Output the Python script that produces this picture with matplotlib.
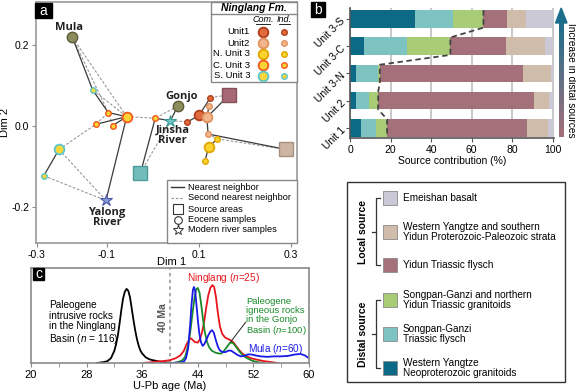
import numpy as np
import matplotlib.pyplot as plt
from matplotlib.patches import Rectangle, Polygon
from matplotlib.colors import LinearSegmentedColormap

plt.rcParams['font.family'] = ['Liberation Sans', 'DejaVu Sans']
plt.rcParams['mathtext.fontset'] = 'custom'
plt.rcParams['mathtext.it'] = 'Liberation Sans:italic'
plt.rcParams['mathtext.rm'] = 'Liberation Sans'

W, H = 576, 391

# ---------------- panel a : MDS map ----------------
pt_x = [-0.175, 0.054, -0.102, 0.038, -0.027, 0.166, 0.289,
        0.100, 0.075, 0.125, 0.117, 0.122, 0.120, 0.121, 0.140, 0.113,
        -0.057, -0.097, -0.124, -0.087, 0.005, -0.204, -0.131, -0.237]
pt_y = [0.219, 0.049, -0.184, 0.013, -0.116, 0.077, -0.058,
        0.026, 0.010, 0.070, 0.021, 0.049, -0.020, -0.052, -0.032, -0.087,
        0.023, 0.033, 0.004, 0.001, 0.019, -0.058, 0.089, -0.123]
pt_kind = ['river_dot', 'river_dot', 'yalong', 'jinsha', 'sq_sg', 'sq_yidun', 'sq_wy',
           'u1c', 'u1i', 'u1i', 'u2c', 'u2i', 'u2i', 'n3c', 'n3i', 'n3i',
           'c3c', 'c3i', 'c3i', 'c3i', 'c3i', 's3c', 's3i', 's3i']
nearest_pairs = [(0, 22), (22, 17), (17, 16), (18, 16), (19, 16), (2, 16), (21, 23),
                 (4, 20), (20, 3), (3, 1), (8, 7), (7, 10), (9, 7), (11, 10), (10, 5),
                 (10, 12), (12, 6), (14, 13), (13, 15)]
second_pairs = [(0, 16), (0, 17), (22, 16), (21, 18), (18, 17), (21, 2), (23, 2), (16, 20),
                (4, 3), (1, 20), (3, 8), (9, 5), (12, 14), (14, 6), (11, 9), (19, 17)]
place_names = ['Mula', 'Gonjo', 'Jinsha\nRiver', 'Yalong\nRiver']
place_x = [-0.183, 0.063, 0.043, -0.100]
place_y = [0.244, 0.072, -0.024, -0.227]

unit_names = ['Unit1', 'Unit2', 'N. Unit 3', 'C. Unit 3', 'S. Unit 3']
unit_keys = ['u1', 'u2', 'n3', 'c3', 's3']
unit_face = ['#e26b3e', '#f3b68c', '#fbd52e', '#fcd236', '#fbd63a']
unit_edge = ['#b03e1a', '#e0925e', '#e2a400', '#f05a1e', '#5ac6cc']

# ---------------- panel b : source contributions ----------------
units = ['Unit 1', 'Unit 2', 'Unit 3-N', 'Unit 3-C', 'Unit 3-S']
wy_granitoids = [5.2, 2.8, 2.9, 7.0, 31.9]
sg_flysch = [7.4, 6.5, 10.7, 21.1, 18.8]
sg_granitoids = [5.7, 4.6, 1.1, 21.4, 15.1]
yidun_flysch = [69.1, 76.8, 70.6, 27.3, 11.5]
wy_strata = [10.3, 7.3, 13.6, 19.6, 9.3]
emeishan = [2.3, 2.0, 1.1, 3.6, 13.4]
src_names = ['Western Yangtze\nNeoproterozoic granitoids', 'Songpan-Ganzi\nTriassic flysch',
             'Songpan-Ganzi and northern\nYidun Triassic granitoids', 'Yidun Triassic flysch',
             'Western Yangtze and southern\nYidun Proterozoic-Paleozoic strata', 'Emeishan basalt']
src_colors = ['#0c6a86', '#7cc3c2', '#a8cc76', '#a4707a', '#d0bcaa', '#cac9d5']

# ---------------- panel c : KDE curves ----------------
intrusive_age = [29.5, 30.5, 31.0, 31.5, 32.0, 32.25, 32.5, 32.75, 33.0, 33.25, 33.5, 33.75,
                 34.0, 34.25, 34.5, 34.75, 35.0, 35.25, 35.5, 35.75, 36.0, 36.5, 37.0, 37.5,
                 38.5, 39.5, 40.5]
intrusive_den = [0.0, 0.01, 0.02, 0.05, 0.13, 0.2, 0.29, 0.42, 0.56, 0.68, 0.75, 0.78,
                 0.76, 0.69, 0.57, 0.45, 0.34, 0.25, 0.18, 0.13, 0.1, 0.06, 0.04, 0.03,
                 0.015, 0.005, 0.0]
ninglang_age = [36.0, 37.0, 38.0, 39.0, 40.0, 40.8, 41.5, 42.0, 42.4, 42.8, 43.0, 43.3, 43.6,
                44.0, 44.3, 44.6, 44.9, 45.2, 45.5, 45.8, 46.1, 46.35, 46.6, 46.9, 47.2,
                47.5, 47.9, 48.3, 48.7, 49.1, 49.5, 49.9, 50.4, 51.0, 51.7, 52.5, 53.5,
                54.5, 55.5]
ninglang_den = [0.0, 0.005, 0.015, 0.02, 0.03, 0.05, 0.08, 0.13, 0.2, 0.25, 0.26, 0.24, 0.22,
                0.215, 0.25, 0.32, 0.43, 0.58, 0.71, 0.79, 0.82, 0.8, 0.7, 0.52, 0.38,
                0.31, 0.27, 0.255, 0.24, 0.22, 0.18, 0.14, 0.1, 0.07, 0.05, 0.035, 0.02,
                0.01, 0.0]
gonjo_age = [40.5, 41.2, 41.8, 42.2, 42.6, 42.9, 43.2, 43.5, 43.75, 44.0, 44.25, 44.5, 44.75,
             45.0, 45.3, 45.6, 46.0, 46.5, 47.0, 47.4, 47.8, 48.2, 48.6, 48.9, 49.2, 49.6,
             50.0, 50.5, 51.0, 51.5, 52.0, 52.7, 53.5]
gonjo_den = [0.0, 0.01, 0.03, 0.07, 0.18, 0.32, 0.5, 0.67, 0.77, 0.79, 0.74, 0.61, 0.46,
             0.33, 0.23, 0.17, 0.13, 0.11, 0.1, 0.1, 0.13, 0.17, 0.21, 0.215, 0.2, 0.16,
             0.12, 0.08, 0.055, 0.035, 0.02, 0.008, 0.0]
mula_age = [40.0, 41.5, 42.0, 42.3, 42.6, 42.9, 43.1, 43.3, 43.45, 43.6, 43.8, 44.0, 44.2,
            44.45, 44.7, 44.95, 45.2, 45.5, 45.8, 46.05, 46.3, 46.6, 46.9, 47.2, 47.6, 48.0,
            48.4, 48.8, 49.2, 49.7, 50.2, 50.7, 51.2, 51.7, 52.3, 53.0, 54.0, 55.0, 56.0,
            57.0, 58.0, 58.8, 59.4, 60.0]
mula_den = [0.0, 0.005, 0.015, 0.05, 0.15, 0.4, 0.62, 0.77, 0.8, 0.77, 0.62, 0.46, 0.32,
            0.22, 0.18, 0.2, 0.24, 0.29, 0.33, 0.345, 0.32, 0.24, 0.17, 0.13, 0.115, 0.115,
            0.13, 0.13, 0.11, 0.085, 0.07, 0.075, 0.09, 0.09, 0.08, 0.07, 0.065, 0.07, 0.07,
            0.075, 0.09, 0.095, 0.08, 0.05]


def px_rect(l, t, r, b):
    return [l / W, 1 - b / H, (r - l) / W, (b - t) / H]


def style(kind):
    if kind == 'river_dot':
        return dict(marker='o', ms=7.5, mfc='#8c8c5e', mec='#5c5c38', mew=1.0)
    if kind == 'yalong':
        return dict(marker='*', ms=9, mfc='#8a9ad8', mec='#4a5aa8', mew=0.8)
    if kind == 'jinsha':
        return dict(marker='*', ms=9, mfc='#6cc6c4', mec='#3a9896', mew=0.8)
    if kind.startswith('sq'):
        c = {'sq_sg': ('#72bcbc', '#4c9a9a'), 'sq_yidun': ('#a66874', '#86505a'),
             'sq_wy': ('#cdb5a3', '#a89080')}[kind]
        return dict(marker='s', ms=10, mfc=c[0], mec=c[1], mew=1.0)
    i = unit_keys.index(kind[:2])
    big = kind[2] == 'c'
    return dict(marker='o', ms=7 if big else 4, mfc=unit_face[i], mec=unit_edge[i],
                mew=1.3 if big else 1.0)


fig = plt.figure(figsize=(W / 100, H / 100), dpi=100)

# ----- panel a -----
axa = fig.add_axes(px_rect(36, 2, 297, 243))
for i, j in second_pairs:
    axa.plot([pt_x[i], pt_x[j]], [pt_y[i], pt_y[j]], color='#9a9a9a', lw=0.8,
             dashes=(2.5, 1.5), zorder=1)
for i, j in nearest_pairs:
    axa.plot([pt_x[i], pt_x[j]], [pt_y[i], pt_y[j]], color='#3a3a3a', lw=0.9, zorder=2)
for x, y, k in zip(pt_x, pt_y, pt_kind):
    axa.plot([x], [y], ls='none', zorder=3, **style(k))
for name, x, y in zip(place_names, place_x, place_y):
    axa.text(x, y, name, ha='center', va='center', fontsize=8, fontweight='bold',
             family=['Open Sans', 'DejaVu Sans'], color='#222222', linespacing=0.9, zorder=4)
axa.set_xlim(-0.254, 0.313)
axa.set_ylim(-0.289, 0.306)
axa.set_xticks([-0.252, -0.1, 0.1, 0.3])
axa.set_xticklabels(['-0.3', '-0.1', '0.1', '0.3'])
axa.set_yticks([-0.2, 0.0, 0.2])
axa.set_yticklabels(['-0.2', '0.0', '0.2'])
axa.tick_params(labelsize=7.5, length=3, color='#8a8a8a', pad=2)
for s in axa.spines.values():
    s.set_color('#9a9a9a')
    s.set_linewidth(1.2)
axa.set_xlabel('Dim 1', fontsize=8)
axa.set_ylabel('Dim 2', fontsize=8)
axa.xaxis.set_label_coords(0.52, -0.058)
axa.yaxis.set_label_coords(-0.1, 0.5)

# ----- panel b -----
axb = fig.add_axes(px_rect(350, 8, 554, 138))
ypos = np.arange(len(units))
bar_h = 0.64
series = [wy_granitoids, sg_flysch, sg_granitoids, yidun_flysch, wy_strata, emeishan]
left = np.zeros(len(units))
for vals, col in zip(series, src_colors):
    axb.barh(ypos, vals, left=left, height=bar_h, color=col, edgecolor='none', zorder=2)
    left += np.array(vals)
distal = np.array(wy_granitoids) + np.array(sg_flysch) + np.array(sg_granitoids)
lx, ly = [], []
for k in ypos[::-1]:
    lx += [distal[k], distal[k]]
    ly += [k + bar_h / 2, k - bar_h / 2]
axb.plot(lx, ly, color='#444444', lw=1.3, dashes=(3, 2), zorder=3)
axb.set_xlim(0, 100.6)
axb.set_ylim(-0.367, 4.40)
axb.set_xticks([0, 20, 40, 60, 80, 100])
axb.set_yticks(ypos)
axb.set_yticklabels(units, rotation=45, ha='right', rotation_mode='anchor')
axb.xaxis.grid(True, color='#c4c4c4', lw=1.3)
axb.set_axisbelow(True)
axb.tick_params(labelsize=7.5, length=3, color='#555555', pad=2)
for side in ['top', 'right']:
    axb.spines[side].set_visible(False)
for side in ['left', 'bottom']:
    axb.spines[side].set_color('#555555')
    axb.spines[side].set_linewidth(1.2)
axb.set_xlabel('Source contribution (%)', fontsize=7.5, labelpad=1)

# ----- panel c -----
axc = fig.add_axes(px_rect(31, 268, 309, 363))
axc.axvline(40, color='#9a9a9a', lw=1.2, dashes=(2, 2), zorder=1)
axc.plot(intrusive_age, intrusive_den, color='black', lw=1.3)
axc.plot(ninglang_age, ninglang_den, color='#e8141c', lw=1.3)
axc.plot(gonjo_age, gonjo_den, color='#1a8a2a', lw=1.3)
axc.plot(mula_age, mula_den, color='#1a1ae6', lw=1.3)
axc.set_xlim(20, 60)
axc.set_ylim(0, 1)
axc.set_xticks([20, 28, 36, 44, 52, 60])
axc.set_xticks([24, 32, 40, 48, 56], minor=True)
axc.set_yticks([])
axc.tick_params(axis='x', which='both', labelsize=8, length=3, color='#8a8a8a', pad=2)
for s in axc.spines.values():
    s.set_color('#8a8a8a')
    s.set_linewidth(1.2)
axc.set_xlabel('U-Pb age (Ma)', fontsize=8, labelpad=1)
axc.text(39.05, 0.48, '40 Ma', rotation=90, ha='center', va='center', fontsize=7.5,
         fontweight='bold', color='#555555')
axc.text(22.6, 0.66, 'Paleogene\nintrusive rocks\nin the Ninglang\nBasin ($n$ = 116)',
         ha='left', va='top', fontsize=7.2, linespacing=1.05)
axc.text(47.7, 0.895, 'Ninglang ($n$=25)', ha='center', va='center', fontsize=7.2,
         color='#e8141c')
axc.text(50.9, 0.69, 'Paleogene\nigneous rocks\nin the Gonjo\nBasin ($n$=100)', ha='left',
         va='top', fontsize=6.8, color='#1a8a2a', linespacing=1.0)
axc.text(55.2, 0.147, 'Mula ($n$=60)', ha='center', va='center', fontsize=7.2,
         color='#1a1ae6')
axc.plot([48.7, 50.9], [0.22, 0.43], color='#222222', lw=0.7)

# ----- overlay: panel tags, legends, arrow -----
ov = fig.add_axes([0, 0, 1, 1])
ov.axis('off')
ov.set_zorder(10)

for (l, t, r, b), tag in zip([(35, 3, 52, 18), (311, 2, 325, 17), (33, 268, 44, 280)],
                             ['a', 'b', 'c']):
    ov.add_patch(Rectangle((l, t), r - l, b - t, color='black', zorder=5))
    ov.text((l + r) / 2, (t + b) / 2 + 0.5, tag, color='white', fontsize=10,
            ha='center', va='center', zorder=6)

# Ninglang Fm. legend
ov.add_patch(Rectangle((211, 2), 86, 80, facecolor='white', edgecolor='#888888', lw=1.0))
ov.plot([211, 297], [13.5, 13.5], color='#888888', lw=1.0)
ov.text(254, 8, 'Ninglang Fm.', fontsize=7.5, fontweight='bold', style='italic',
        ha='center', va='center')
for x, half, lab in [(263, 7, 'Com.'), (284, 5.5, 'Ind.')]:
    ov.text(x, 20, lab, fontsize=6.5, style='italic', ha='center', va='center')
    ov.plot([x - half, x + half], [24, 24], color='black', lw=0.6)
for k, (name, key) in enumerate(zip(unit_names, unit_keys)):
    yy = 32 + k * 11
    ov.text(250, yy, name, fontsize=6.8, ha='right', va='center')
    ov.plot([263], [yy], ls='none', **style(key + 'c'))
    ov.plot([284], [yy], ls='none', **style(key + 'i'))

# neighbor legend
ov.add_patch(Rectangle((167, 180), 130, 63, facecolor='white', edgecolor='#888888', lw=1.0))
leg_y = [187, 198, 209, 220, 230]
ov.plot([171, 184], [leg_y[0]] * 2, color='#333333', lw=1.0)
ov.plot([171, 184], [leg_y[1]] * 2, color='#9a9a9a', lw=0.9, dashes=(2, 1.5))
ov.plot([177.5], [leg_y[2]], marker='s', ms=6.5, mfc='white', mec='#333333', mew=0.8)
ov.plot([177.5], [leg_y[3]], marker='o', ms=5.5, mfc='white', mec='#333333', mew=0.8)
ov.plot([177.5], [leg_y[4]], marker='*', ms=8, mfc='white', mec='#333333', mew=0.7)
for yy, lab in zip(leg_y, ['Nearest neighbor', 'Second nearest neighbor', 'Source areas',
                           'Eocene samples', 'Modern river samples']):
    ov.text(188, yy, lab, fontsize=6.6, ha='left', va='center')

# gradient arrow for panel b
cmap = LinearSegmentedColormap.from_list('arr', ['#a8707c', '#1c6e8c'])
grad = np.linspace(0, 1, 100)[:, None]
ov.imshow(grad, cmap=cmap, extent=[559, 563.5, 137, 22], aspect='auto', origin='lower',
          zorder=2)
ov.add_patch(Polygon([(555.5, 23), (567, 23), (561.2, 8)], closed=True, color='#1c6e8c'))
ov.text(571.5, 80, 'Increase in distal sources', rotation=-90, fontsize=7.3,
        ha='center', va='center')

# source legend
ov.add_patch(Rectangle((347, 182), 218, 200, facecolor='white', edgecolor='#333333', lw=1.0))
sw_y = [368, 334, 300, 265, 232, 198]
for yy, name, col in zip(sw_y, src_names, src_colors):
    ov.add_patch(Rectangle((383, yy - 7), 14, 14, facecolor=col, edgecolor='#8a8a8a', lw=0.6))
    ov.text(403, yy, name, fontsize=7.2, ha='left', va='center', linespacing=1.05)
for y0, y1, lab in [(198, 265, 'Local source'), (300, 368, 'Distal source')]:
    ov.plot([380, 375.5, 375.5, 380], [y0, y0, y1, y1], color='#333333', lw=0.9)
    ov.plot([371.5, 375.5], [(y0 + y1) / 2] * 2, color='#333333', lw=0.9)
    ov.text(363, (y0 + y1) / 2, lab, rotation=90, fontsize=7.5, fontweight='bold',
            ha='center', va='center')

ov.set_xlim(0, W)
ov.set_ylim(H, 0)

fig.savefig('out.png', dpi=100)
